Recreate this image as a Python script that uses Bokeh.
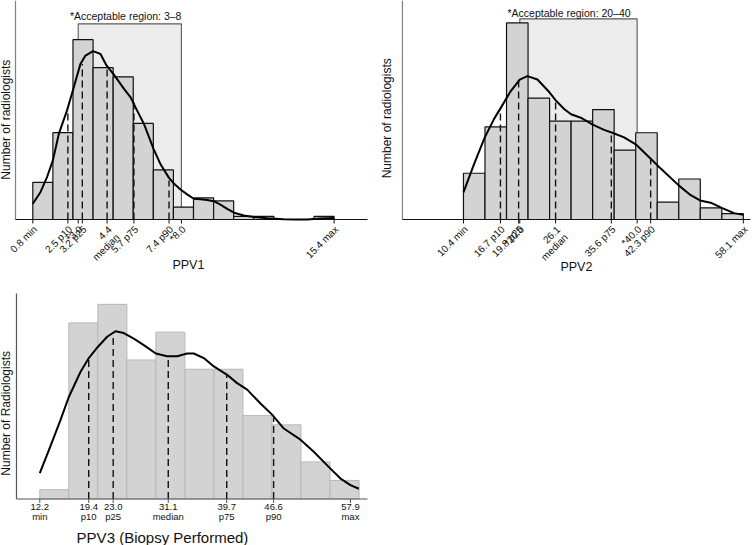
import math
import numpy as np
from bokeh.plotting import figure
from bokeh.models import Range1d, Label, LabelSet, ColumnDataSource
from bokeh.core.properties import value
from bokeh.layouts import column, row
from bokeh.embed import file_html
from bokeh.resources import INLINE

FONT = "Liberation Sans"

# ---------------- Panel 1: PPV1 ----------------
ppv1_min, ppv1_max = 0.8, 15.4
ppv1_counts = [12, 28, 58, 49, 46, 31, 16, 4, 7, 6, 1, 1, 0, 0, 1]
ppv1_ticks = [0.8, 2.5, 3.0, 3.2, 4.4, 5.7, 7.4, 8.0, 15.4]
ppv1_tick_labels = ["0.8 min", "2.5 p10", "*3.0", "3.2 p25", "4.4\nmedian",
                    "5.7 p75", "7.4 p90", "*8.0", "15.4 max"]
ppv1_pct = [2.5, 3.2, 4.4, 5.7, 7.4]
ppv1_pct_height = [34.5, 50.2, 49.1, 38.4, 12.6]
ppv1_region = [3.0, 8.0]
ppv1_region_top = 63.1
ppv1_curve_x = [0.80, 1.17, 1.49, 1.77, 2.06, 2.46, 2.74, 3.11, 3.35, 3.72, 4.08,
                4.37, 4.72, 5.21, 5.53, 5.85, 6.18, 6.65, 6.99, 7.39, 7.62, 7.97,
                8.28, 8.60, 8.92, 9.25, 9.57, 9.89, 10.22, 10.55, 11.02, 11.51,
                12.15, 12.96, 13.45, 14.09, 14.74, 15.40]
ppv1_curve_y = [5.1, 8.8, 13.7, 19.0, 27.6, 35.2, 41.6, 50.2, 52.9, 54.3, 53.4,
                49.7, 46.8, 42.2, 39.5, 35.2, 30.9, 22.8, 17.8, 13.5, 11.7, 9.6,
                8.1, 6.7, 6.5, 6.3, 5.9, 4.8, 3.4, 2.2, 1.3, 0.8,
                0.4, 0.1, 0.0, 0.0, 0.3, 0.5]

# ---------------- Panel 2: PPV2 ----------------
ppv2_min, ppv2_max = 10.4, 58.1
ppv2_counts = [8, 16, 34, 21, 17, 17, 19, 12, 15, 3, 7, 2, 1]
ppv2_ticks = [10.4, 16.7, 19.8, 20.0, 26.1, 35.6, 40.0, 42.3, 58.1]
ppv2_tick_labels = ["10.4 min", "16.7 p10", "19.8 p25", "*20.0", "26.1\nmedian",
                    "35.6 p75", "*40.0", "42.3 p90", "58.1 max"]
ppv2_pct = [16.7, 19.8, 26.1, 35.6, 42.3]
ppv2_pct_height = [18.7, 24.0, 20.5, 15.1, 10.3]
ppv2_region = [20.0, 40.0]
ppv2_region_top = 34.7
ppv2_curve_x = [10.40, 12.22, 14.03, 15.62, 16.76, 18.46, 19.99, 21.30, 23.01,
                25.05, 26.13, 27.55, 28.74, 30.39, 32.43, 34.36, 35.78, 37.77,
                39.76, 42.31, 44.02, 47.08, 49.13, 50.72, 52.53, 54.41, 56.51, 58.10]
ppv2_curve_y = [4.7, 9.6, 14.2, 17.4, 19.3, 22.2, 24.2, 24.8, 24.2,
                22.0, 20.6, 19.1, 18.2, 17.6, 16.4, 15.5, 15.0, 14.2,
                13.0, 10.5, 8.8, 5.9, 4.2, 3.3, 2.9, 2.0, 1.1, 0.8]

# ---------------- Panel 3: PPV3 ----------------
ppv3_bin_start, ppv3_bin_width = 12.2, 4.27
ppv3_counts = [1, 19, 21, 15, 18, 14, 14, 9, 8, 4, 2]
ppv3_ticks = [12.2, 19.4, 23.0, 31.1, 39.7, 46.6, 57.9]
ppv3_tick_labels = ["12.2\nmin", "19.4\np10", "23.0\np25", "31.1\nmedian",
                    "39.7\np75", "46.6\np90", "57.9\nmax"]
ppv3_pct = [19.4, 23.0, 31.1, 39.7, 46.6]
ppv3_pct_height = [15.0, 18.0, 15.3, 13.4, 8.8]
ppv3_curve_x = [12.20, 13.77, 15.24, 16.47, 18.18, 19.41, 20.73, 22.11, 23.33,
                24.56, 26.03, 27.50, 29.27, 30.93, 32.40, 33.88, 34.86, 36.33,
                37.80, 39.76, 41.23, 42.71, 44.67, 46.38, 48.10, 50.55, 52.51,
                54.92, 56.44, 57.91, 59.14]
ppv3_curve_y = [2.8, 5.7, 8.5, 11.0, 13.7, 15.2, 16.4, 17.5, 18.1,
                17.9, 17.3, 16.6, 15.7, 15.4, 15.4, 15.7, 15.7, 15.2,
                14.3, 13.4, 12.5, 11.8, 10.3, 9.1, 7.6, 6.4, 5.1,
                3.3, 2.2, 1.5, 1.1]

TXT = "#111111"


def setup(width, height, xr, yr):
    p = figure(width=width, height=height, x_range=Range1d(*xr),
               y_range=Range1d(*yr), output_backend="svg",
               toolbar_location=None, x_axis_location=None,
               y_axis_location=None, min_border_left=0, min_border_right=0,
               min_border_top=0, min_border_bottom=0)
    p.grid.visible = False
    p.outline_line_color = None
    return p


def draw_axes(p, height, yr, x_left, x_right, y_top, ticks, ycolor, xcolor):
    n = len(ticks)
    tick_len = 4.0 * (yr[1] - yr[0]) / height
    p.segment(x0=[x_left], y0=[0], x1=[x_left], y1=[y_top],
              line_color=ycolor, line_width=1.2)
    p.segment(x0=[x_left], y0=[0], x1=[x_right], y1=[0],
              line_color=xcolor, line_width=1.2)
    p.segment(x0=ticks, y0=[0] * n, x1=ticks, y1=[-tick_len] * n,
              line_color=xcolor, line_width=1.0)


def label(p, text, x, y, x_off, y_off, size, angle=0.0):
    p.add_layout(Label(x=x, y=y, x_offset=x_off, y_offset=y_off, text=text,
                       angle=angle, angle_units="deg", text_align="center",
                       text_baseline="middle", text_font=FONT,
                       text_font_size=size, text_color=TXT))


def labelset(p, xs, texts, x_off, y_off, size, angle=0.0, align="center"):
    src = ColumnDataSource(dict(x=xs, y=[0] * len(xs), text=texts))
    p.add_layout(LabelSet(x="x", y="y", text="text", source=src,
                          angle=value(angle), angle_units="deg",
                          text_align=align, text_baseline="middle",
                          x_offset=x_off, y_offset=y_off,
                          text_font=value(FONT), text_font_size=value(size),
                          text_color=TXT))


def rotated_panel(width, vmin, vmax, counts, ticks, tick_labels, pct, pct_h,
                  region, region_top, cx, cy, xr, yr, axis_x, note, note_xy,
                  xlabel, xlabel_pos, ylabel_pos):
    height = 283
    p = setup(width, height, xr, yr)
    edges = np.linspace(vmin, vmax, len(counts) + 1)
    p.quad(left=[region[0]], right=[region[1]], bottom=[0], top=[region_top],
           fill_color="#ececec", line_color="#5a5a5a", line_width=1.1)
    p.quad(left=edges[:-1], right=edges[1:], bottom=0, top=counts,
           fill_color="#d3d3d3", line_color=TXT, line_width=1.2)
    p.segment(x0=pct, y0=[0] * len(pct), x1=pct, y1=pct_h,
              line_color=TXT, line_width=1.4, line_dash="7 4")
    draw_axes(p, height, yr, axis_x[0], axis_x[1], yr[1], ticks, "#808080", TXT)
    p.line(cx, cy, line_color="#000000", line_width=2.0, line_join="round")
    label(p, note, note_xy[0], note_xy[1], 0, 0, "10.5px")
    first = [l.split("\n")[0] for l in tick_labels]
    labelset(p, ticks, first, 2.5, -8, "10px", 45, "right")
    sx = [t for t, l in zip(ticks, tick_labels) if "\n" in l]
    st = [l.split("\n")[1] for l in tick_labels if "\n" in l]
    labelset(p, sx, st, 10.5, -16, "10px", 45, "right")
    label(p, xlabel, xlabel_pos[0], 0, 0, xlabel_pos[1], "12.5px")
    label(p, "Number of radiologists", axis_x[0], ylabel_pos[0], ylabel_pos[1], 0,
          "12px", angle=90)
    return p


p1 = rotated_panel(378, ppv1_min, ppv1_max, ppv1_counts, ppv1_ticks,
                   ppv1_tick_labels, ppv1_pct, ppv1_pct_height, ppv1_region,
                   ppv1_region_top, ppv1_curve_x, ppv1_curve_y,
                   (-0.765, 17.55), (-20.65, 70.65), (-0.038, 17.02),
                   "*Acceptable region: 3\u20138", (5.3, 65.8),
                   "PPV1", (8.34, -46), (32.2, -9.1))
p2 = rotated_panel(376, ppv2_min, ppv2_max, ppv2_counts, ppv2_ticks,
                   ppv2_tick_labels, ppv2_pct, ppv2_pct_height, ppv2_region,
                   ppv2_region_top, ppv2_curve_x, ppv2_curve_y,
                   (-4.08, 60.0), (-11.07, 37.87), (0.0, 59.3),
                   "*Acceptable region: 20\u201340", (28.4, 35.7),
                   "PPV2", (29.65, -48), (17.5, -15.6))

# ---------------- panel 3 ----------------
h3 = 262
xr3, yr3 = (6.42, 62.03), (-5.02, 23.25)
p3 = setup(378, h3, xr3, yr3)
e3 = ppv3_bin_start + ppv3_bin_width * np.arange(len(ppv3_counts) + 1)
p3.quad(left=e3[:-1], right=e3[1:], bottom=0, top=ppv3_counts,
        fill_color="#d3d3d3", line_color="#b8b8b8", line_width=1.0)
p3.segment(x0=ppv3_pct, y0=[0] * len(ppv3_pct), x1=ppv3_pct, y1=ppv3_pct_height,
           line_color=TXT, line_width=1.4, line_dash="7 4")
draw_axes(p3, h3, yr3, 8.77, 60.41, 22.18, ppv3_ticks, "#555555", "#555555")
p3.line(ppv3_curve_x, ppv3_curve_y, line_color="#000000", line_width=2.0,
        line_join="round")
l1 = [l.split("\n")[0] for l in ppv3_tick_labels]
l2 = [l.split("\n")[1] for l in ppv3_tick_labels]
labelset(p3, ppv3_ticks, l1, 0, -8.5, "9.5px")
labelset(p3, ppv3_ticks, l2, 0, -17.5, "9.5px")
label(p3, "PPV3 (Biopsy Performed)", 30.25, 0, 0, -38.5, "15px")
label(p3, "Number of Radiologists", 8.77, 9.24, -10.1, 0, "12px", angle=90)

layout = column(row(p1, p2), p3)
open("out.html", "w").write(file_html(layout, INLINE))
